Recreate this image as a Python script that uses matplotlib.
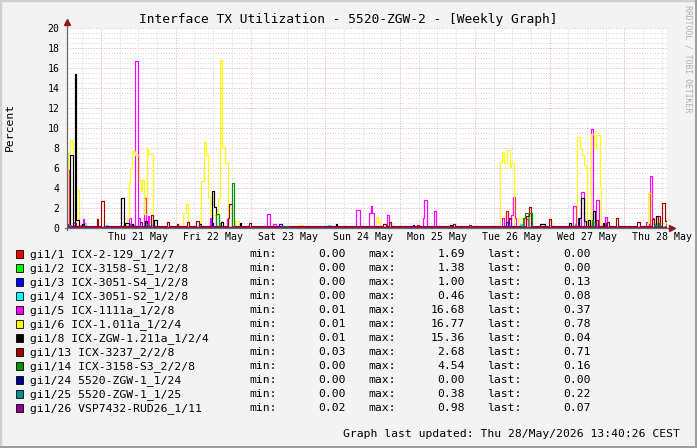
import numpy as np
import matplotlib
matplotlib.use('Agg')
import matplotlib.pyplot as plt
from matplotlib.patches import Rectangle

################################################################################
# Data (hours since Thu 21 May 00:00)
################################################################################

T0 = -10.92   # Wed 20 May ~13:05
T1 = 181.67   # Thu 28 May 13:40

names = ['gi1/1 ICX-2-129_1/2/7', 'gi1/2 ICX-3158-S1_1/2/8', 'gi1/3 ICX-3051-S4_1/2/8',
         'gi1/4 ICX-3051-S2_1/2/8', 'gi1/5 ICX-1111a_1/2/8', 'gi1/6 ICX-1.011a_1/2/4',
         'gi1/8 ICX-ZGW-1.211a_1/2/4', 'gi1/13 ICX-3237_2/2/8', 'gi1/14 ICX-3158-S3_2/2/8',
         'gi1/24 5520-ZGW-1_1/24', 'gi1/25 5520-ZGW-1_1/25', 'gi1/26 VSP7432-RUD26_1/11']
colors = ['#FF0000', '#00FF00', '#0000FF', '#00FFFF', '#FF00FF', '#FFFF00',
          '#000000', '#A00000', '#009000', '#000090', '#009090', '#900090']
min_vals = [0.00, 0.00, 0.00, 0.00, 0.01, 0.01, 0.01, 0.03, 0.00, 0.00, 0.00, 0.02]
max_vals = [1.69, 1.38, 1.00, 0.46, 16.68, 16.77, 15.36, 2.68, 4.54, 0.00, 0.38, 0.98]
last_vals = [0.00, 0.00, 0.13, 0.08, 0.37, 0.78, 0.04, 0.71, 0.16, 0.00, 0.22, 0.07]

# idle level of each interface
base = [0.0, 0.1, 0.02, 0.05, 0.08, 0.1, 0.1, 0.15, 0.05, 0.0, 0.03, 0.1]

# busy periods: (start h, end h, percent)
gi1_1 = [(-6.5, -6.0, 0.3), (55.0, 55.5, 0.2), (101.3, 102.0, 0.3), (130.0, 130.5, 1.69),
         (157.0, 157.5, 0.6), (176.0, 176.5, 0.4), (180.5, 181.67, 0.0)]
gi1_2 = [(37.8, 38.3, 0.5), (137.0, 137.5, 1.38), (152.0, 152.5, 0.4), (180.5, 181.67, 0.0)]
gi1_3 = [(-10.8, -10.2, 0.5), (9.0, 9.6, 0.4), (35.0, 35.8, 0.5), (57.0, 58.0, 0.4),
         (100.0, 100.6, 0.3), (130.0, 130.6, 0.6), (153.0, 153.5, 1.0), (161.5, 162.0, 0.5),
         (178.5, 179.0, 0.4), (181.0, 181.67, 0.13)]
gi1_4 = [(-10.5, -10.0, 0.3), (-5.6, -4.8, 0.46), (1.5, 2.2, 0.3), (10.0, 10.5, 0.3),
         (16.2, 16.7, 0.3), (73.0, 73.5, 0.3), (134.5, 135.0, 0.4), (159.0, 159.5, 0.3),
         (177.5, 178.0, 0.4), (181.0, 181.67, 0.08)]
gi1_5 = [(-10.9, -10.3, 5.8), (-9.0, -8.6, 0.6), (-5.9, -5.4, 0.9), (9.0, 9.6, 1.0),
         (11.0, 11.8, 16.68), (12.0, 12.6, 1.0), (13.8, 14.4, 3.0), (15.0, 15.5, 1.2),
         (34.9, 35.4, 1.0), (40.4, 40.9, 0.9), (53.4, 54.2, 1.4), (55.3, 56.3, 0.4),
         (81.9, 83.0, 1.8), (85.9, 86.5, 1.5), (86.5, 87.0, 2.2), (87.0, 87.5, 1.5),
         (91.9, 92.5, 1.3), (103.4, 103.8, 1.0), (103.8, 104.6, 2.8), (107.0, 107.6, 1.7),
         (128.7, 129.2, 1.0), (130.8, 131.6, 0.9), (131.6, 132.3, 1.3), (132.3, 132.8, 3.1),
         (132.8, 133.3, 1.0), (135.7, 136.9, 0.9), (151.6, 152.4, 2.2), (154.2, 155.0, 3.6),
         (157.3, 158.0, 9.9), (158.9, 159.8, 2.8), (161.9, 162.5, 1.1), (175.0, 175.5, 0.6),
         (176.1, 176.9, 5.2), (176.9, 177.4, 1.0), (181.0, 181.67, 0.37)]
gi1_6 = [(-10.5, -10.0, 7.6), (-10.0, -9.4, 8.8), (-9.4, -8.9, 8.6), (-8.9, -7.9, 0.4),
         (-7.9, -7.2, 3.8), (8.4, 8.9, 1.0), (8.9, 9.3, 4.5), (9.3, 9.8, 6.0), (9.8, 10.3, 7.6),
         (10.3, 10.9, 7.7), (10.9, 12.3, 7.3), (12.3, 12.9, 4.8), (12.9, 13.3, 3.7),
         (13.3, 13.8, 4.8), (13.8, 14.6, 1.4), (14.6, 15.2, 8.0), (15.2, 16.8, 7.4),
         (26.3, 27.3, 1.5), (27.3, 28.0, 2.4), (32.1, 33.1, 4.7), (33.1, 33.7, 8.6),
         (33.7, 34.4, 7.3), (34.4, 35.0, 3.1), (35.0, 37.4, 1.3), (37.4, 38.1, 3.0),
         (38.1, 38.7, 16.77), (38.7, 39.9, 8.1), (39.9, 40.8, 6.5), (42.9, 44.2, 0.7),
         (63.6, 64.8, 0.3), (88.4, 89.0, 1.1), (89.0, 89.4, 0.6), (128.0, 128.7, 6.6),
         (128.7, 129.3, 7.6), (129.3, 130.3, 6.5), (130.3, 131.2, 7.8), (131.2, 131.6, 6.1),
         (131.6, 132.5, 6.5), (134.0, 136.2, 1.0), (152.8, 153.6, 9.1), (153.6, 154.4, 7.9),
         (154.4, 155.0, 7.3), (155.0, 155.6, 6.3), (155.6, 155.9, 6.0), (157.3, 158.1, 9.4),
         (158.1, 158.9, 8.0), (158.9, 160.1, 9.3), (160.1, 160.6, 4.0), (175.7, 176.4, 3.5),
         (178.3, 179.0, 0.6), (181.0, 181.67, 0.78)]
gi1_8 = [(-9.8, -9.1, 7.3), (-8.4, -7.9, 15.36), (-7.9, -7.2, 0.8), (-6.0, -5.6, 0.4),
         (6.5, 7.3, 3.0), (7.7, 9.0, 0.5), (9.8, 10.4, 0.4), (14.0, 14.6, 0.7), (16.9, 18.0, 0.8),
         (31.5, 32.0, 0.4), (35.7, 36.3, 3.7), (36.3, 36.9, 2.1), (38.5, 39.0, 0.6),
         (44.5, 45.0, 0.5), (75.3, 75.7, 0.4), (112.0, 112.5, 0.3), (141.0, 142.5, 0.4),
         (150.3, 151.0, 0.5), (153.5, 154.2, 1.0), (154.2, 155.0, 3.0), (155.0, 155.6, 0.7),
         (156.4, 157.0, 0.8), (158.0, 158.6, 1.7), (161.0, 161.5, 0.5), (178.0, 178.7, 1.2),
         (181.0, 181.67, 0.04)]
gi1_13 = [(-8.5, -8.0, 0.5), (-1.4, -0.9, 0.9), (0.0, 0.9, 2.68), (16.1, 16.8, 1.3),
          (21.2, 21.7, 0.6), (24.3, 24.8, 0.4), (27.5, 28.2, 0.6), (30.6, 31.4, 0.7),
          (40.6, 41.1, 1.0), (41.1, 41.9, 2.4), (47.6, 48.2, 0.5), (90.6, 91.5, 0.4),
          (92.5, 93.1, 0.6), (113.0, 113.7, 0.4), (118.0, 118.6, 0.3), (136.5, 137.3, 1.2),
          (137.3, 138.1, 2.1), (143.9, 144.5, 0.9), (158.8, 159.4, 0.8), (162.5, 163.2, 0.6),
          (165.2, 166.0, 1.0), (172.1, 172.9, 0.6), (176.9, 177.6, 0.9), (178.7, 179.3, 1.2),
          (180.1, 180.9, 2.5), (180.9, 181.67, 0.71)]
gi1_14 = [(36.9, 37.8, 1.4), (42.2, 42.7, 4.54), (58.0, 60.0, 0.15), (135.5, 136.2, 1.0),
          (136.2, 138.4, 1.5), (157.5, 158.0, 0.8), (179.0, 179.5, 0.5), (181.0, 181.67, 0.16)]
gi1_24 = []
gi1_25 = [(-10.0, -9.5, 0.3), (14.5, 15.0, 0.38), (135.0, 135.5, 0.3), (177.5, 178.5, 0.3),
          (181.0, 181.67, 0.22)]
gi1_26 = [(-10.9, -10.5, 0.4), (12.5, 13.0, 0.6), (131.0, 131.5, 0.98), (158.5, 159.0, 0.5),
          (181.0, 181.67, 0.07)]

series = [gi1_1, gi1_2, gi1_3, gi1_4, gi1_5, gi1_6, gi1_8, gi1_13, gi1_14, gi1_24, gi1_25, gi1_26]

day_labels = ['Thu 21 May', 'Fri 22 May', 'Sat 23 May', 'Sun 24 May',
              'Mon 25 May', 'Tue 26 May', 'Wed 27 May', 'Thu 28 May']
day_centers = [12 + 24 * i for i in range(len(day_labels))]

W, H = 697, 448
MONO = 'DejaVu Sans Mono'


# turn busy periods into a steps-post line
def steps(segs, lvl):
	t = [T0]
	v = [lvl]
	end = None
	for a, b, val in sorted(segs):
		if end is not None and abs(a - end) < 1e-6:
			t[-1] = a
			v[-1] = val
		else:
			t.append(a)
			v.append(val)
		t.append(b)
		v.append(lvl)
		end = b
	if t[-1] < T1:
		t.append(T1)
		v.append(v[-1])
	return t, v


def fx(px):
	return px / W


def fy(py):
	return 1 - py / H


fig = plt.figure(figsize=(W / 100, H / 100), dpi=100)
fig.patch.set_facecolor('#F3F3F3')

# 3D-ish frame round the canvas
fig.add_artist(Rectangle((0, 0), 1, 1, transform=fig.transFigure, fill=False,
                         edgecolor='#CFCFCF', lw=2.5))
fig.add_artist(Rectangle((0, 0), 1, 2.5 / H, transform=fig.transFigure,
                         facecolor='#9E9E9E', lw=0))
fig.add_artist(Rectangle((1 - 2.5 / W, 0), 2.5 / W, 1, transform=fig.transFigure,
                         facecolor='#9E9E9E', lw=0))

ax = fig.add_axes([fx(67), fy(228), 600 / W, 200 / H])
ax.set_facecolor('white')
ax.set_xlim(T0, T1)
ax.set_ylim(0, 20)

# grid: minor gray, major pink, dotted
for y in np.arange(0.5, 20.01, 0.5):
	major = abs(y / 2 - round(y / 2)) < 1e-6
	ax.axhline(y, color='#F5B0B0' if major else '#DADADA', lw=0.72,
	           ls=(0, (1, 1.6)), zorder=1)
for x in range(-6, 182, 6):
	major = x % 24 == 0
	ax.axvline(x, color='#F5B0B0' if major else '#DADADA', lw=0.72,
	           ls=(0, (1, 1.6)), zorder=1)

for segs, lvl, c in zip(series, base, colors):
	t, v = steps(segs, lvl)
	ax.plot(t, v, drawstyle='steps-post', color=c, lw=0.85, zorder=3)

for s in ax.spines.values():
	s.set_visible(False)

# axes with arrow heads
ax.plot([T0 - 0.8, T1 + 1.6], [0, 0], color='#6A6A6A', lw=0.9, clip_on=False, zorder=4)
ax.plot([T0, T0], [-0.2, 20.6], color='#6A6A6A', lw=0.9, clip_on=False, zorder=4)
ax.plot([T1 + 1.7], [0], marker='>', ms=4.5, color='#8B1A1A', clip_on=False, zorder=5)
ax.plot([T0], [20.6], marker='^', ms=4.5, color='#8B1A1A', clip_on=False, zorder=5)

ax.set_yticks(range(0, 21, 2))
ax.set_yticklabels([str(v) for v in range(0, 21, 2)], family=MONO, fontsize=7.1)
ax.set_xticks(day_centers)
ax.set_xticklabels(day_labels, family=MONO, fontsize=7.1)
ax.tick_params(axis='both', length=0)
ax.tick_params(axis='y', pad=5.5)
ax.tick_params(axis='x', pad=3.2)

fig.text(fx(348), fy(19), 'Interface TX Utilization - 5520-ZGW-2 - [Weekly Graph]',
         family=MONO, fontsize=9.3, ha='center', va='center')
fig.text(fx(10), fy(127), 'Percent', family=MONO, fontsize=8.2, rotation=90,
         ha='center', va='center')
fig.text(fx(688), fy(5), 'RRDTOOL / TOBI OETIKER', family=MONO, fontsize=5.9,
         rotation=-90, ha='center', va='top', color='#B0B0B0')

# legend block
for i, name in enumerate(names):
	yc = 254.3 + 14 * i
	fig.add_artist(Rectangle((fx(15.5), fy(yc + 4)), 7.5 / W, 8 / H,
	                         transform=fig.transFigure, facecolor=colors[i],
	                         edgecolor='black', lw=0.6))
	fig.text(fx(30), fy(yc), name, family=MONO, fontsize=8.2, va='center')
	fig.text(fx(249), fy(yc), 'min:', family=MONO, fontsize=8.2, va='center')
	fig.text(fx(346), fy(yc), '%.2f' % min_vals[i], family=MONO, fontsize=8.2,
	         va='center', ha='right')
	fig.text(fx(368), fy(yc), 'max:', family=MONO, fontsize=8.2, va='center')
	fig.text(fx(465), fy(yc), '%.2f' % max_vals[i], family=MONO, fontsize=8.2,
	         va='center', ha='right')
	fig.text(fx(487.5), fy(yc), 'last:', family=MONO, fontsize=8.2, va='center')
	fig.text(fx(591), fy(yc), '%.2f' % last_vals[i], family=MONO, fontsize=8.2,
	         va='center', ha='right')

fig.text(fx(680), fy(434.3), 'Graph last updated: Thu 28/May/2026 13:40:26 CEST',
         family=MONO, fontsize=8.2, ha='right', va='center')

fig.savefig('out.png', dpi=100, facecolor=fig.get_facecolor())
